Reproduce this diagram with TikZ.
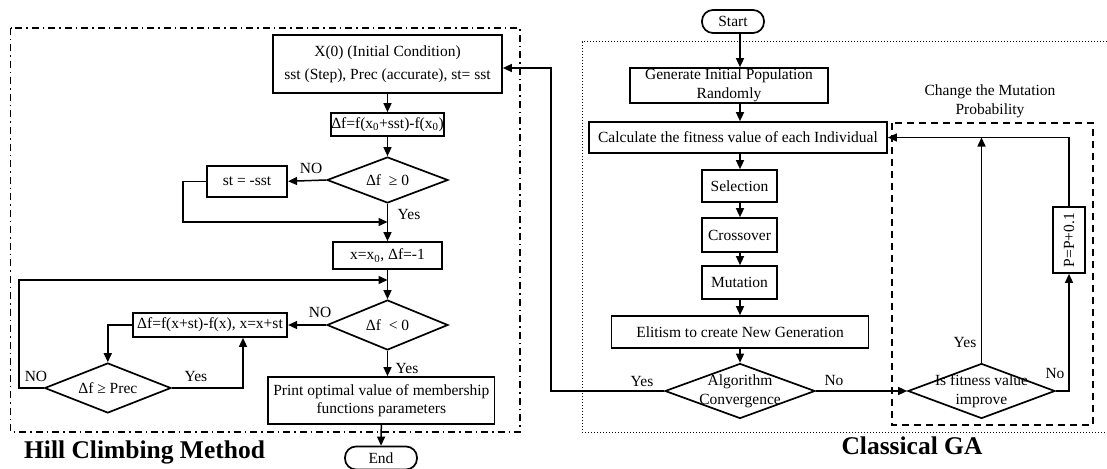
\documentclass[tikz,border=0pt]{standalone}
\usepackage{fontspec}
\setmainfont{Liberation Serif}
\usetikzlibrary{arrows.meta,shapes.geometric,calc}
\begin{document}
\begin{tikzpicture}[x=1pt,y=-1pt,
  font=\fontsize{15.5}{18.6}\selectfont,
  box/.style={draw,line width=1.7pt,inner sep=0pt,align=center},
  term/.style={box,rounded corners=11pt},
  dec/.style={draw,diamond,line width=1.7pt,inner sep=0pt},
  arr/.style={line width=1.5pt,-{Triangle[length=9pt,width=8pt]}},
  lbl/.style={inner sep=0pt,align=center},
  title/.style={inner sep=0pt,font=\fontsize{25.5}{30}\selectfont\bfseries},
  dashdotf/.style={line width=1.5pt,dash pattern=on 7pt off 4pt on 1.5pt off 4pt},
  dotf/.style={line width=1pt,dash pattern=on 1pt off 2pt},
  dashf/.style={line width=1.6pt,dash pattern=on 7pt off 5pt}
]
\useasboundingbox (0,0) rectangle (1107,468);

% frames
\draw[dashdotf] (10.7,28) rectangle (520,432);
\draw[dotf] (1110,42) -- (582,42) -- (582,432) -- (1110,432);
\draw[dashf] (892,123) rectangle (1093,425);

% ---------------- Hill climbing ----------------
\node[box,minimum width=229pt,minimum height=58pt] (x0box) at (387.5,64)
  {X(0) (Initial Condition)\\[4pt]sst (Step), Prec (accurate), st= sst};
\node[box,minimum width=113pt,minimum height=23pt] (dfbox) at (387.5,124.5)
  {Δf=f(x\textsubscript{0}+sst)-f(x\textsubscript{0})};
\node[dec,minimum width=121pt,minimum height=46pt,label={[lbl]center:Δf\ \ ≥ 0}] (d1) at (387.5,180) {};
\node[box,minimum width=80.5pt,minimum height=30.7pt] (sst) at (247,181.3) {st = -sst};
\node[box,minimum width=109pt,minimum height=27pt] (xset) at (387.5,255.5)
  {x=x\textsubscript{0}, Δf=-1};
\node[dec,minimum width=121pt,minimum height=50pt,label={[lbl]center:Δf\ \ < 0}] (d2) at (387.5,325) {};
\node[box,minimum width=154.5pt,minimum height=24pt] (upd) at (210,325)
  {Δf=f(x+st)-f(x), x=x+st};
\node[dec,minimum width=126.4pt,minimum height=50pt,label={[lbl]center:Δf ≥ Prec}] (d3) at (107.8,388) {};
\node[box,minimum width=226.6pt,minimum height=47pt] (prt) at (381.3,400.5)
  {Print optimal value of membership\\functions parameters};
\node[term,minimum width=72pt,minimum height=23pt] (stop) at (381,458) {End};
\node[title] (hcm) at (144.5,452) {Hill Climbing Method};

\coordinate (j1) at (387.5,222);
\coordinate (j2) at (387.5,280);
\draw[arr] (x0box.south) -- (dfbox.north);
\draw[arr] (dfbox.south) -- (d1.north);
\draw[arr] (d1.west) -- (sst.east);
\draw[arr] (sst.west) -- ++(-23,0) |- (j1);
\draw[arr] (d1.south) -- (xset.north);
\draw[arr] (xset.south) -- (d2.north);
\draw[arr] (d2.west) -- (upd.east);
\draw[arr] (upd.west) -| (d3.north);
\draw[arr] (d3.east) -| ([xshift=33pt]upd.south);
\draw[arr] (d3.west) -- ++(-25,0) |- (j2);
\draw[arr] (d2.south) -- (d2.south |- prt.north);
\draw[arr] (prt.south) -- (stop.north);

\node[lbl] at (311,168) {NO};
\node[lbl] at (409,214) {Yes};
\node[lbl] at (320,312) {NO};
\node[lbl] at (196,376) {Yes};
\node[lbl] at (36,376) {NO};
\node[lbl] at (407,368) {Yes};

% ---------------- Classical GA ----------------
\coordinate (gx) at (740,0);
\node[term,minimum width=62pt,minimum height=23pt] (start) at (733,21.5) {Start};
\node[box,minimum width=198pt,minimum height=35pt] (gen) at (729,85.5)
  {Generate Initial Population\\Randomly};
\node[box,minimum width=298pt,minimum height=31pt] (calc) at (738,137.5)
  {Calculate the fitness value of each Individual};
\node[box,minimum width=75pt,minimum height=32pt] (sel) at (739.5,186) {Selection};
\node[box,minimum width=75pt,minimum height=34pt] (cro) at (739.5,235) {Crossover};
\node[box,minimum width=75pt,minimum height=33pt] (mut) at (739.5,282.5) {Mutation};
\node[box,minimum width=257pt,minimum height=32pt] (eli) at (740,332)
  {Elitism to create New Generation};
\node[dec,minimum width=150pt,minimum height=55pt,label={[lbl]center:Algorithm\\Convergence}] (alg) at (740,391) {};
\node[dec,minimum width=147pt,minimum height=55pt,label={[lbl]center:Is fitness value\\improve}] (fit) at (981.5,391) {};
\node[box,minimum width=32pt,minimum height=66pt] (pbox) at (1069,240) {\rotatebox{90}{P=P+0.1}};
\node[lbl] (chg) at (990,101) {Change the Mutation\\Probability};
\node[title] (cga) at (912,446) {Classical GA};

\draw[arr] (start.south -| gx) -- (gen.north -| gx);
\draw[arr] (gen.south -| gx) -- (calc.north -| gx);
\draw[arr] (calc.south -| gx) -- (sel.north -| gx);
\draw[arr] (sel.south -| gx) -- (cro.north -| gx);
\draw[arr] (cro.south -| gx) -- (mut.north -| gx);
\draw[arr] (mut.south -| gx) -- (eli.north -| gx);
\draw[arr] (eli.south -| gx) -- (alg.north);
\draw[arr] (alg.west) -- ++(-113,0) |- ([yshift=-4pt]x0box.east);
\draw[arr] (alg.east) -- (fit.west);
\draw[arr] (fit.north) -- (fit.north |- calc.east);
\draw[arr] (fit.east) -| (pbox.south);
\draw[arr] (pbox.north) |- (calc.east);

\node[lbl] at (642,381) {Yes};
\node[lbl] at (834,380) {No};
\node[lbl] at (965,342) {Yes};
\node[lbl] at (1055,373) {No};
\end{tikzpicture}
\end{document}
